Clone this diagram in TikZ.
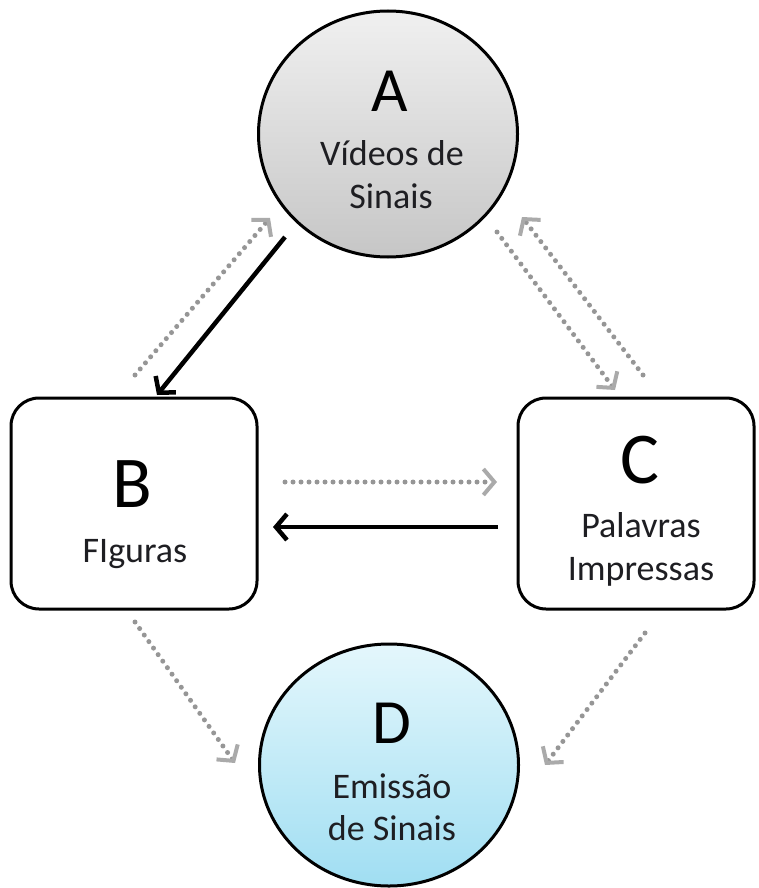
\documentclass[tikz,border=0pt]{standalone}
\usepackage{fontspec}
\setmainfont{Carlito}
\usetikzlibrary{arrows.meta,shapes.geometric}
\definecolor{inktext}{RGB}{30,30,34}
\definecolor{dotgray}{RGB}{150,150,150}
\definecolor{tipgray}{RGB}{170,170,170}
\definecolor{graytop}{RGB}{240,240,240}
\definecolor{graybot}{RGB}{198,198,198}
\definecolor{cyantop}{RGB}{228,247,252}
\definecolor{cyanbot}{RGB}{160,222,242}
\begin{document}
\begin{tikzpicture}[x=1pt,y=-1pt,
  disc/.style={ellipse, draw=black, line width=3pt, inner sep=0pt},
  card/.style={rectangle, rounded corners=28pt, draw=black, line width=3pt, fill=white, inner sep=0pt},
  bigletter/.style={anchor=base, inner sep=0pt, text=black},
  sub/.style={anchor=base, inner sep=0pt, text=inktext, font=\fontsize{36}{36}\selectfont},
  solidarrow/.style={line width=4.5pt, draw=black, -{Straight Barb[length=11pt,width=26pt,line width=4.5pt]}},
  dotarrow/.style={line width=5pt, draw=dotgray, line cap=round, dash pattern=on 0pt off 8pt,
    -{Straight Barb[length=11pt,width=26pt,line width=4pt,color=tipgray]}}
]
\useasboundingbox (0,0) rectangle (758,888);

% the four stations
\node[disc, top color=graytop, bottom color=graybot, minimum width=259pt, minimum height=246pt] (A) at (388,134) {};
\node[card, minimum width=246pt, minimum height=211pt] (B) at (134,503.5) {};
\node[card, minimum width=236pt, minimum height=211pt] (C) at (636,503.5) {};
\node[disc, top color=cyantop, bottom color=cyanbot, minimum width=259pt, minimum height=242pt] (D) at (389,765) {};

% labels
\node[bigletter, font=\fontsize{63}{63}\selectfont] (At) at (390,112) {A};
\node[sub] (A1) at (392,165) {Vídeos de};
\node[sub] (A2) at (391,208) {Sinais};

\node[bigletter, font=\fontsize{73}{73}\selectfont] (Bt) at (132,507) {B};
\node[sub] (B1) at (135,562) {FIguras};

\node[bigletter, font=\fontsize{73}{73}\selectfont] (Ct) at (640,483) {C};
\node[sub] (C1) at (641,537) {Palavras};
\node[sub] (C2) at (641,580) {Impressas};

\node[bigletter, font=\fontsize{63}{63}\selectfont] (Dt) at (392,743) {D};
\node[sub] (D1) at (392,798) {Emissão};
\node[sub] (D2) at (392,840) {de Sinais};

% connectors
\draw[solidarrow] ([shift={(-103,103)}]A.center) -- ([shift={(23,-108.5)}]B.center);
\draw[dotarrow]   ([shift={(1,-128.5)}]B.center) -- ([shift={(-118,84)}]A.center);
\draw[dotarrow]   ([shift={(109,98)}]A.center) -- ([shift={(-21,-113.5)}]C.center);
\draw[dotarrow]   ([shift={(7,-128.5)}]C.center) -- ([shift={(134,83)}]A.center);
\draw[dotarrow]   ([shift={(151,-21.5)}]B.center) -- ([shift={(-139,-21.5)}]C.center);
\draw[solidarrow] ([shift={(-138,23.5)}]C.center) -- ([shift={(139,23.5)}]B.center);
\draw[dotarrow]   ([shift={(1,118.5)}]B.center) -- ([shift={(-154,-2)}]D.center);
\draw[dotarrow]   ([shift={(9,129.5)}]C.center) -- ([shift={(156,0)}]D.center);
\end{tikzpicture}
\end{document}
